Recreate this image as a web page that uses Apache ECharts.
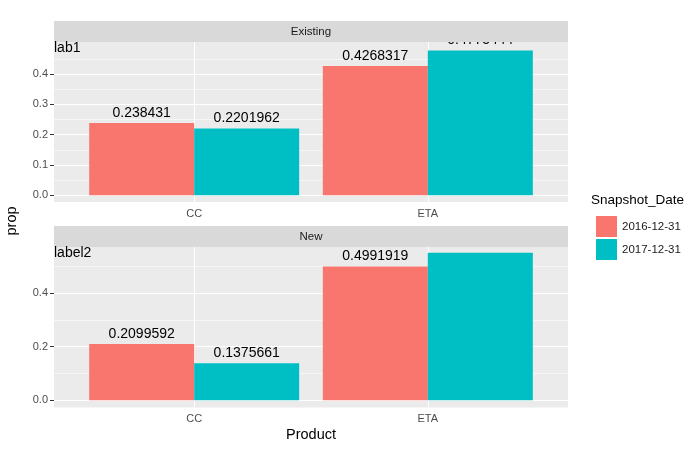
<!DOCTYPE html>
<html>
<head>
<meta charset="utf-8">
<script src="https://cdn.jsdelivr.net/npm/echarts@6/dist/echarts.min.js"></script>
<style>html,body{margin:0;padding:0;background:#fff}#c{width:700px;height:451px}</style>
</head>
<body>
<div id="c"></div>
<script>
const categories = ['CC', 'ETA'];
const panels = ['Existing', 'New'];
const panelLabels = ['lab1', 'label2'];
const seriesNames = ['2016-12-31', '2017-12-31'];
const values2016 = [[0.238431, 0.4268317], [0.2099592, 0.4991919]];
const values2017 = [[0.2201962, 0.4775444], [0.1375661, 0.5501053]];
const yTicks = [[0, 0.1, 0.2, 0.3, 0.4], [0, 0.2, 0.4]];
const yMinor = [[0.05, 0.15, 0.25, 0.35, 0.45], [0.1, 0.3, 0.5]];
const yRange = [[-0.0221, 0.5058], [-0.0274, 0.572]];

const colors = ['#F8766D', '#00BFC4'];
const gridBoxes = [{top: 42, height: 160}, {top: 247, height: 160.5}];
const stripBoxes = [{y: 21, h: 21}, {y: 226, h: 21}];
const LEFT = 54, WIDTH = 514;

const grids = [], xAxes = [], yAxes = [], series = [], graphics = [];
panels.forEach((p, i) => {
  grids.push({left: LEFT, top: gridBoxes[i].top, width: WIDTH, height: gridBoxes[i].height,
    show: true, backgroundColor: '#EBEBEB', borderWidth: 0, containLabel: false});
  xAxes.push({type: 'value', gridIndex: i, min: 0.4, max: 2.6,
    axisLine: {show: false}, splitLine: {show: false},
    axisTick: {show: true, customValues: [1, 2], length: 4, lineStyle: {color: '#333333', width: 1}},
    axisLabel: {show: true, customValues: [1, 2], margin: 6, color: '#4D4D4D', fontSize: 11,
      fontFamily: 'Liberation Sans, Arial, sans-serif',
      formatter: v => categories[Math.round(v) - 1] || ''}});
  yAxes.push({type: 'value', gridIndex: i, min: yRange[i][0], max: yRange[i][1],
    axisLine: {show: false}, splitLine: {show: false},
    axisTick: {show: true, customValues: yTicks[i], length: 4, lineStyle: {color: '#333333', width: 1}},
    axisLabel: {show: true, customValues: yTicks[i], margin: 6, color: '#4D4D4D', fontSize: 11,
      fontFamily: 'Liberation Sans, Arial, sans-serif',
      formatter: v => v.toFixed(1)}});
  const mlData = [];
  yTicks[i].forEach(v => mlData.push({yAxis: v, lineStyle: {width: 1.1}}));
  yMinor[i].forEach(v => mlData.push({yAxis: v, lineStyle: {width: 0.55}}));
  [1, 2].forEach(v => mlData.push({xAxis: v, lineStyle: {width: 1.1}}));
  series.push({type: 'line', xAxisIndex: i, yAxisIndex: i, z: 1, silent: true,
    data: [[1, 0]], showSymbol: false, symbol: 'none', lineStyle: {opacity: 0},
    markLine: {silent: true, z: 1, symbol: 'none', label: {show: false}, animation: false,
      lineStyle: {color: '#FFFFFF', type: 'solid'}, data: mlData}});
  [values2016[i], values2017[i]].forEach((vals, k) => {
    series.push({type: 'bar', name: seriesNames[k], xAxisIndex: i, yAxisIndex: i, z: 10,
      barWidth: 105, barGap: '0%', itemStyle: {color: colors[k]},
      data: vals.map((v, j) => [j + 1, v]),
      label: {show: true, position: 'top', distance: 3, color: '#000000', fontSize: 14,
        fontFamily: 'Liberation Sans, Arial, sans-serif',
        formatter: pr => String(pr.value[1])}});
  });
  graphics.push({type: 'rect', z: 100, shape: {x: LEFT, y: stripBoxes[i].y, width: WIDTH, height: stripBoxes[i].h},
    style: {fill: '#D9D9D9'}});
  graphics.push({type: 'text', z: 101, x: LEFT + WIDTH / 2, y: stripBoxes[i].y + stripBoxes[i].h / 2,
    style: {text: p, fill: '#1A1A1A', fontSize: 11.5, fontFamily: 'Liberation Sans, Arial, sans-serif',
      align: 'center', verticalAlign: 'middle'}});
  graphics.push({type: 'text', z: 101, x: LEFT, y: gridBoxes[i].top - 1,
    style: {text: panelLabels[i], fill: '#000000', fontSize: 14, fontFamily: 'Liberation Sans, Arial, sans-serif',
      align: 'left', verticalAlign: 'top'}});
});
graphics.push({type: 'rect', z: 99, shape: {x: LEFT, y: 0, width: WIDTH, height: 21}, style: {fill: '#FFFFFF'}});
graphics.push({type: 'text', z: 101, x: 12, y: 221, rotation: Math.PI / 2,
  style: {text: 'prop', fill: '#000000', fontSize: 14.5, fontFamily: 'Liberation Sans, Arial, sans-serif',
    align: 'center', verticalAlign: 'middle'}});
graphics.push({type: 'text', z: 101, x: 311, y: 435,
  style: {text: 'Product', fill: '#000000', fontSize: 14.5, fontFamily: 'Liberation Sans, Arial, sans-serif',
    align: 'center', verticalAlign: 'middle'}});
graphics.push({type: 'text', z: 101, x: 591, y: 200,
  style: {text: 'Snapshot_Date', fill: '#000000', fontSize: 13.5, fontFamily: 'Liberation Sans, Arial, sans-serif',
    align: 'left', verticalAlign: 'middle'}});

const chart = echarts.init(document.getElementById('c'), null, {renderer: 'canvas'});
chart.setOption({
  animation: false,
  backgroundColor: '#FFFFFF',
  grid: grids, xAxis: xAxes, yAxis: yAxes, series: series,
  legend: {data: seriesNames, orient: 'vertical', left: 591, top: 211, itemWidth: 21, itemHeight: 21,
    itemGap: 2, icon: 'rect', selectedMode: false,
    textStyle: {color: '#1A1A1A', fontSize: 11.5, fontFamily: 'Liberation Sans, Arial, sans-serif'}},
  graphic: graphics
});
</script>
</body>
</html>
